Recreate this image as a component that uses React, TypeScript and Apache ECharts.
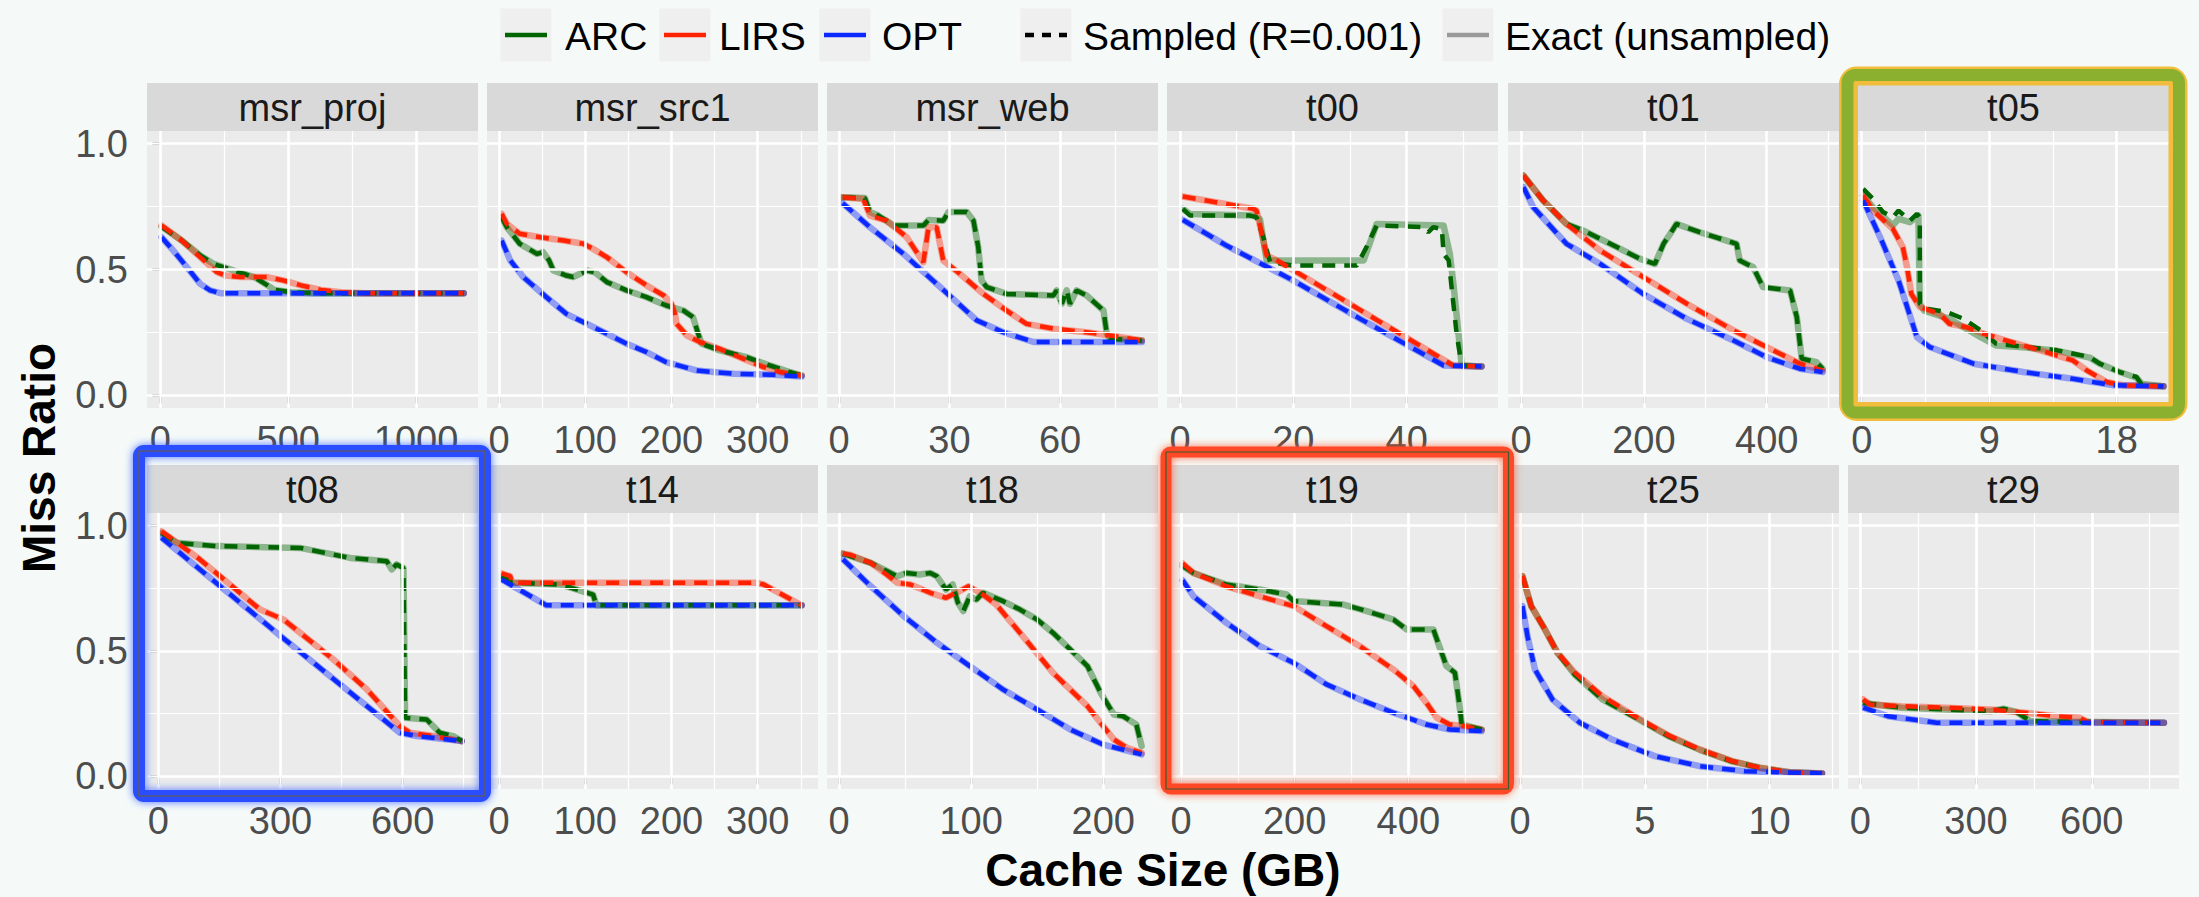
import React, { useEffect, useRef } from 'react';
import * as echarts from 'echarts';

// ---------- data ----------
const panelNames = ['msr_proj', 'msr_src1', 'msr_web', 't00', 't01', 't05', 't08', 't14', 't18', 't19', 't25', 't29'];
const xMins = [-52, -14, -3.26, -2.29, -21.2, -0.97, -27.8, -14, -9.1, -24.6, -0.48, -31.6];
const xMaxs = [1242, 370, 86.6, 56.1, 517.7, 22.4, 785, 370, 241.4, 557.8, 12.78, 826];
const xBreaks = [[0, 500, 1000], [0, 100, 200, 300], [0, 30, 60], [0, 20, 40], [0, 200, 400], [0, 9, 18], [0, 300, 600], [0, 100, 200, 300], [0, 100, 200], [0, 200, 400], [0, 5, 10], [0, 300, 600]];
const yBreaks = [0, 0.5, 1];
const yMinorBreaks = [0.25, 0.75];
const yRange = [-0.05, 1.05];

// msr_proj
const msrProjArc = [[5, .67], [84, .615], [156, .556], [209, .522], [288, .496], [367, .47], [419, .437], [446, .419], [511, .41], [600, .406], [1186, .406]];
const msrProjLirs = [[5, .675], [84, .615], [156, .549], [222, .489], [255, .476], [314, .47], [419, .47], [484, .456], [550, .437], [628, .419], [707, .41], [800, .406], [1186, .406]];
const msrProjOpt = [[5, .628], [51, .575], [104, .509], [156, .443], [195, .417], [235, .406], [1186, .406]];
// msr_src1
const msrSrc1Arc = [[3, .708], [9, .668], [24, .602], [44, .562], [51, .569], [58, .536], [63, .496], [78, .476], [86, .47], [94, .483], [102, .496], [111, .489], [125, .45], [148, .417], [171, .39], [194, .357], [214, .337], [225, .311], [231, .245], [235, .205], [256, .179], [287, .152], [314, .119], [337, .093], [351, .079]];
const msrSrc1Lirs = [[3, .721], [9, .681], [24, .642], [48, .628], [75, .615], [98, .602], [109, .582], [125, .549], [148, .489], [171, .437], [191, .397], [200, .364], [204, .324], [206, .284], [218, .238], [233, .212], [256, .185], [283, .146], [307, .112], [326, .093], [337, .086], [351, .079]];
const msrSrc1Opt = [[3, .615], [13, .536], [28, .47], [55, .39], [78, .324], [102, .284], [125, .245], [148, .205], [171, .172], [194, .132], [229, .099], [272, .086], [318, .082], [351, .075]];
// msr_web
const msrWebArc = [[1, .787], [7, .784], [8.4, .728], [10.7, .714], [14.8, .675], [22.9, .675], [24.3, .697], [28.3, .694], [29.7, .728], [34.7, .728], [36.5, .694], [37.8, .589], [38.7, .456], [40.1, .43], [45.5, .403], [58.2, .397], [59.1, .417], [60.5, .364], [61.8, .417], [62.7, .364], [64.5, .417], [67.2, .397], [71.8, .337], [72.7, .245], [73.6, .225], [82.2, .218]];
const msrWebLirs = [[1, .787], [6.6, .78], [8.4, .714], [12.9, .694], [18.4, .628], [22.9, .529], [24.3, .668], [26.5, .668], [28.3, .536], [32.8, .483], [39.2, .403], [45.5, .337], [50.9, .284], [58.2, .265], [67.2, .251], [73.6, .238], [82.2, .218]];
const msrWebOpt = [[1, .763], [8.4, .668], [17.5, .562], [26.5, .443], [37.4, .298], [44.6, .251], [52.8, .212], [82.2, .212]];
// t00
const t00Arc = [[0.5, .741], [1.8, .714], [12.4, .714], [13.5, .708], [14.7, .628], [15.9, .529], [20, .516], [31.2, .516], [32.9, .589], [34.7, .675], [42.9, .668], [43.8, .648], [44.7, .668], [46.2, .661], [46.5, .562], [47.4, .536], [48.8, .245], [49.7, .119], [53.2, .115]];
const t00ArcExact = [[0.5, .741], [1.8, .72], [12.9, .714], [14.1, .7], [15.3, .536], [31.2, .536], [32.4, .536], [34.7, .681], [46.5, .675], [47.6, .562], [48.2, .45], [49.7, .119], [53.2, .115]];
const t00Lirs = [[0.5, .79], [12.9, .741], [13.5, .734], [15.3, .556], [17.1, .536], [48.2, .119], [53.2, .115]];
const t00Opt = [[0.5, .697], [8.2, .595], [20, .456], [31.8, .304], [46.5, .119], [53.2, .115]];
// t01
const t01Arc = [[4, .873], [36, .774], [74, .681], [101, .655], [156, .589], [194, .542], [218, .522], [232, .602], [243, .642], [253, .681], [291, .648], [351, .602], [356, .536], [378, .509], [394, .43], [438, .417], [449, .311], [457, .146], [481, .132], [491, .106]];
const t01Lirs = [[4, .873], [36, .774], [74, .681], [129, .575], [199, .47], [270, .364], [346, .258], [400, .192], [454, .126], [491, .099]];
const t01Opt = [[4, .827], [20, .747], [74, .602], [129, .522], [199, .403], [270, .304], [346, .218], [400, .152], [454, .106], [491, .093]];
// t05
const t05Arc = [[0.1, .82], [0.8, .78], [1.5, .728], [2.2, .708], [2.6, .734], [3.4, .694], [3.9, .721], [4.1, .708], [4.1, .364], [4.6, .344], [6, .331], [7.2, .304], [8.4, .258], [9.5, .205], [11.6, .192], [13.8, .179], [16.1, .152], [16.8, .126], [18.2, .093], [19.4, .073], [19.8, .04], [21.3, .036]];
const t05ArcExact = [[0.1, .794], [0.8, .747], [2.2, .675], [2.6, .701], [3.4, .688], [4, .714], [4.1, .364], [4.4, .337], [6.2, .304], [8.4, .231], [9.5, .198], [11.6, .19], [13.8, .177], [16.1, .15], [16.8, .126], [18.2, .093], [19.4, .07], [19.8, .045], [21.3, .036]];
const t05Lirs = [[0.1, .794], [0.8, .734], [2.2, .661], [2.9, .589], [3.2, .509], [3.5, .403], [4.1, .351], [5.5, .324], [6.2, .284], [7.4, .271], [8.6, .245], [10.2, .218], [12.6, .179], [14.9, .139], [15.9, .099], [17.3, .053], [18.5, .04], [21.3, .036]];
const t05Opt = [[0.1, .774], [1.3, .628], [2.6, .456], [3.9, .231], [4.8, .192], [7.9, .126], [11.4, .093], [14.9, .066], [17.8, .04], [21.3, .036]];
// t08
const t08Arc = [[8, .971], [45, .931], [143, .918], [348, .911], [471, .871], [561, .858], [573, .825], [585, .845], [602, .831], [606, .234], [659, .227], [691, .174], [724, .161], [745, .141]];
const t08Lirs = [[8, .977], [102, .865], [250, .665], [307, .626], [430, .466], [512, .347], [593, .201], [618, .174], [675, .161], [745, .141]];
const t08Opt = [[8, .951], [300, .56], [593, .174], [634, .161], [745, .141]];
// t14
const t14Arc = [[3, .798], [15, .772], [71, .765], [109, .725], [113, .682], [351, .682]];
const t14Lirs = [[3, .809], [13, .798], [15, .772], [299, .772], [307, .765], [351, .682]];
const t14Opt = [[3, .785], [55, .682], [351, .682]];
// t18
const t18Arc = [[3, .888], [24, .851], [44, .798], [51, .811], [61, .805], [69, .811], [74, .798], [81, .745], [86, .765], [90, .692], [94, .659], [99, .718], [104, .705], [109, .732], [124, .699], [137, .665], [150, .625], [162, .572], [175, .506], [188, .44], [198, .333], [208, .247], [215, .24], [225, .207], [229, .121]];
const t18Lirs = [[3, .888], [8, .884], [24, .851], [36, .805], [44, .772], [54, .765], [69, .732], [81, .712], [91, .738], [98, .758], [107, .732], [119, .685], [137, .572], [162, .413], [188, .28], [208, .147], [218, .114], [229, .094]];
const t18Opt = [[3, .865], [24, .758], [49, .639], [74, .533], [99, .44], [124, .347], [150, .267], [175, .187], [200, .127], [229, .088]];
// t19
const t19Arc = [[3, .838], [22, .811], [80, .765], [139, .745], [186, .725], [198, .699], [286, .685], [327, .659], [374, .625], [397, .586], [444, .586], [467, .44], [482, .413], [491, .267], [494, .207], [529, .187]];
const t19Lirs = [[3, .849], [22, .811], [80, .758], [139, .718], [198, .679], [256, .599], [315, .519], [374, .426], [409, .36], [432, .293], [450, .234], [473, .207], [497, .201], [529, .187]];
const t19Opt = [[3, .782], [22, .718], [80, .612], [139, .519], [198, .453], [256, .367], [315, .307], [374, .254], [432, .207], [473, .187], [529, .181]];
// t25
const t25Arc = [[0.1, .798], [0.45, .679], [1, .586], [1.5, .493], [2.2, .405], [3.3, .307], [4.6, .236], [6, .158], [7.2, .106], [8.5, .06], [9.6, .035], [10.8, .017], [12.1, .012]];
const t25Lirs = [[0.1, .798], [0.45, .679], [1, .586], [1.5, .493], [2.2, .413], [3.3, .32], [4.6, .24], [6, .161], [7.2, .108], [8.5, .061], [9.6, .035], [10.8, .017], [12.1, .012]];
const t25Opt = [[0.1, .679], [0.3, .559], [0.6, .426], [1.3, .307], [2.4, .214], [3.7, .147], [5.4, .081], [7.2, .041], [9, .021], [12.1, .012]];
// t29
const t29Arc = [[8, .293], [106, .274], [337, .26], [371, .27], [406, .256], [441, .22], [787, .214]];
const t29Lirs = [[8, .307], [25, .287], [106, .28], [222, .274], [337, .267], [383, .26], [427, .254], [510, .24], [568, .234], [591, .216], [787, .214]];
const t29Opt = [[8, .274], [72, .24], [198, .214], [787, .214]];

const arcSampled = [msrProjArc, msrSrc1Arc, msrWebArc, t00Arc, t01Arc, t05Arc, t08Arc, t14Arc, t18Arc, t19Arc, t25Arc, t29Arc];
const arcExact = [msrProjArc, msrSrc1Arc, msrWebArc, t00ArcExact, t01Arc, t05ArcExact, t08Arc, t14Arc, t18Arc, t19Arc, t25Arc, t29Arc];
const lirsData = [msrProjLirs, msrSrc1Lirs, msrWebLirs, t00Lirs, t01Lirs, t05Lirs, t08Lirs, t14Lirs, t18Lirs, t19Lirs, t25Lirs, t29Lirs];
const optData = [msrProjOpt, msrSrc1Opt, msrWebOpt, t00Opt, t01Opt, t05Opt, t08Opt, t14Opt, t18Opt, t19Opt, t25Opt, t29Opt];

const legendAlgos = ['ARC', 'LIRS', 'OPT'];
const legendStyles = ['Sampled (R=0.001)', 'Exact (unsampled)'];

// ---------- layout / style ----------
const FONT = '"Liberation Sans", Arial, Helvetica, sans-serif';
const COLORS = { ARC: '#006400', LIRS: '#ff2200', OPT: '#0a28ff' };
const EXACT = { ARC: 'rgba(0,100,0,0.4)', LIRS: 'rgba(255,34,0,0.4)', OPT: 'rgba(10,40,255,0.4)' };
const colLeft = [147, 487, 827, 1167, 1508, 1848];
const colW = 331;
const rowTop = [131, 513];
const rowH = [277, 276];
const stripH = 48;

function minorOf(br: number[], max: number) {
  const out: number[] = [];
  const step = br[1] - br[0];
  for (let k = 0; k < br.length; k++) {
    const m = br[k] + step / 2;
    if (m <= max) out.push(m);
  }
  return out;
}

function buildOption() {
  const grid: any[] = [];
  const xAxis: any[] = [];
  const yAxis: any[] = [];
  const series: any[] = [];
  const graphic: any[] = [];

  panelNames.forEach((name, i) => {
    const r = Math.floor(i / 6);
    const c = i % 6;
    grid.push({ left: colLeft[c], top: rowTop[r], width: colW, height: rowH[r], show: true, backgroundColor: '#ebebeb', borderWidth: 0 });
    xAxis.push({
      type: 'value', gridIndex: i, min: xMins[i], max: xMaxs[i],
      axisLine: { show: false }, splitLine: { show: false },
      axisTick: { show: true, length: 8, customValues: xBreaks[i], lineStyle: { color: '#333', width: 2.5 } },
      axisLabel: { show: true, customValues: xBreaks[i], margin: 13, color: '#4d4d4d', fontSize: 38, fontFamily: FONT, formatter: (v: number) => String(v) },
    });
    yAxis.push({
      type: 'value', gridIndex: i, min: yRange[0], max: yRange[1],
      axisLine: { show: false }, splitLine: { show: false },
      axisTick: { show: c === 0, length: 8, customValues: yBreaks, lineStyle: { color: '#333', width: 2.5 } },
      axisLabel: { show: c === 0, customValues: yBreaks, margin: 19, color: '#4d4d4d', fontSize: 38, fontFamily: FONT, formatter: (v: number) => v.toFixed(1) },
    });
    const ml: any[] = [];
    minorOf(xBreaks[i], xMaxs[i]).forEach((v) => ml.push({ xAxis: v, lineStyle: { color: '#fff', width: 1.2, type: 'solid' } }));
    yMinorBreaks.forEach((v) => ml.push({ yAxis: v, lineStyle: { color: '#fff', width: 1.2, type: 'solid' } }));
    xBreaks[i].forEach((v) => ml.push({ xAxis: v, lineStyle: { color: '#fff', width: 2.6, type: 'solid' } }));
    yBreaks.forEach((v) => ml.push({ yAxis: v, lineStyle: { color: '#fff', width: 2.6, type: 'solid' } }));
    series.push({
      type: 'line', xAxisIndex: i, yAxisIndex: i, data: [], z: 1, silent: true,
      markLine: { silent: true, symbol: ['none', 'none'], label: { show: false }, animation: false, data: ml },
    });
    const exactSets: [string, number[][]][] = [['ARC', arcExact[i]], ['LIRS', lirsData[i]], ['OPT', optData[i]]];
    exactSets.forEach(([alg, d]) => series.push({
      type: 'line', name: alg + ' exact', xAxisIndex: i, yAxisIndex: i, data: d, z: 3, silent: true,
      showSymbol: false, symbol: 'none', lineStyle: { color: (EXACT as any)[alg], width: 6.5, cap: 'round', join: 'round' },
    }));
    const sampSets: [string, number[][]][] = [['ARC', arcSampled[i]], ['LIRS', lirsData[i]], ['OPT', optData[i]]];
    sampSets.forEach(([alg, d]) => series.push({
      type: 'line', name: alg, xAxisIndex: i, yAxisIndex: i, data: d, z: 4, silent: true,
      showSymbol: false, symbol: 'none', lineStyle: { color: (COLORS as any)[alg], width: 4.5, type: [13, 9] },
    }));
    // strip
    graphic.push({ type: 'rect', z: 10, shape: { x: colLeft[c], y: rowTop[r] - stripH, width: colW, height: stripH }, style: { fill: '#d9d9d9' }, silent: true });
    graphic.push({ type: 'text', z: 11, x: colLeft[c] + colW / 2, y: rowTop[r] - stripH / 2 + 1, silent: true,
      style: { text: name, fill: '#1a1a1a', font: `38px ${FONT}`, textAlign: 'center', textVerticalAlign: 'middle', align: 'center', verticalAlign: 'middle' } });
  });

  // legend
  const keyX = [500, 659, 819, 1020, 1442];
  const textX = [565, 719, 882, 1083, 1505];
  const keyLabels = [...legendAlgos, ...legendStyles];
  keyLabels.forEach((lab, k) => {
    graphic.push({ type: 'rect', z: 10, shape: { x: keyX[k], y: 8, width: 52, height: 54 }, style: { fill: '#efefef', stroke: '#f8f8f8', lineWidth: 1 }, silent: true });
    let stroke = '#999';
    let dash: any = null;
    if (k < 3) stroke = (COLORS as any)[lab];
    if (k === 3) { stroke = '#000'; dash = [9, 8]; }
    if (k === 4) stroke = '#9a9a9a';
    graphic.push({ type: 'line', z: 11, shape: { x1: keyX[k] + 5, y1: 35, x2: keyX[k] + 47, y2: 35 }, style: { stroke, lineWidth: 4.5, lineDash: dash }, silent: true });
    graphic.push({ type: 'text', z: 11, x: textX[k], y: 36, silent: true,
      style: { text: lab, fill: '#000', font: `39px ${FONT}`, textAlign: 'left', textVerticalAlign: 'middle', align: 'left', verticalAlign: 'middle' } });
  });

  // axis titles
  graphic.push({ type: 'text', z: 11, x: 1163, y: 870, silent: true,
    style: { text: 'Cache Size (GB)', fill: '#000', font: `bold 46px ${FONT}`, textAlign: 'center', textVerticalAlign: 'middle', align: 'center', verticalAlign: 'middle' } });
  graphic.push({ type: 'text', z: 11, x: 39, y: 458, rotation: Math.PI / 2, silent: true,
    style: { text: 'Miss Ratio', fill: '#000', font: `bold 46px ${FONT}`, textAlign: 'center', textVerticalAlign: 'middle', align: 'center', verticalAlign: 'middle' } });

  // highlight frames
  graphic.push({ type: 'rect', z: 100, silent: true, shape: { x: 1848.5, y: 76, width: 329.5, height: 335.5, r: 8 }, style: { fill: 'none', stroke: '#f2bd3c', lineWidth: 19 } });
  graphic.push({ type: 'rect', z: 101, silent: true, shape: { x: 1847.5, y: 75, width: 331.5, height: 337.5, r: 8 }, style: { fill: 'none', stroke: '#8bb02f', lineWidth: 12 } });
  graphic.push({ type: 'rect', z: 100, silent: true, shape: { x: 139, y: 451, width: 346, height: 345, r: 5 }, style: { fill: 'none', stroke: '#2a4dff', lineWidth: 12, shadowBlur: 8, shadowColor: 'rgba(40,80,255,0.8)' } });
  graphic.push({ type: 'rect', z: 101, silent: true, shape: { x: 139, y: 451, width: 346, height: 345 }, style: { fill: 'none', stroke: '#6e5f2e', lineWidth: 1.2 } });
  graphic.push({ type: 'rect', z: 100, silent: true, shape: { x: 1166, y: 452, width: 342.5, height: 337, r: 5 }, style: { fill: 'none', stroke: '#ff4a28', lineWidth: 11, shadowBlur: 8, shadowColor: 'rgba(255,80,40,0.8)' } });
  graphic.push({ type: 'rect', z: 101, silent: true, shape: { x: 1166, y: 452, width: 342.5, height: 337 }, style: { fill: 'none', stroke: '#3c5a2c', lineWidth: 1.2 } });

  return {
    animation: false,
    backgroundColor: '#f5faf8',
    textStyle: { fontFamily: FONT },
    grid, xAxis, yAxis, series, graphic,
  };
}

export default function App() {
  const ref = useRef<HTMLDivElement>(null);
  useEffect(() => {
    if (!ref.current) return;
    const chart = echarts.init(ref.current, undefined, { renderer: 'svg' });
    chart.setOption(buildOption() as any);
    return () => chart.dispose();
  }, []);
  return <div ref={ref} style={{ position: 'absolute', left: 0, top: 0, width: 2199, height: 897 }} />;
}
